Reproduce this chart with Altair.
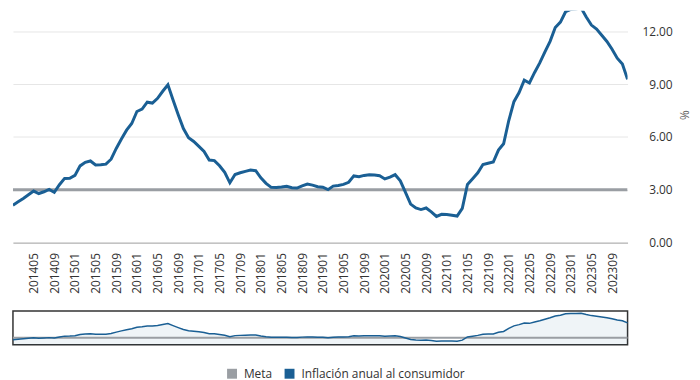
import altair as alt
import pandas as pd

# Categories: monthly periods (YYYYMM) from 2014-01 to 2023-12
fechas = [f"{y}{m:02d}" for y in range(2014, 2024) for m in range(1, 13)]

etiquetas = ["201405", "201409", "201501", "201505", "201509", "201601", "201605",
             "201609", "201701", "201705", "201709", "201801", "201805", "201809",
             "201901", "201905", "201909", "202001", "202005", "202009", "202101",
             "202105", "202109", "202201", "202205", "202209", "202301", "202305",
             "202309"]

inflacion = [
    2.13, 2.32, 2.51, 2.72, 2.93, 2.79, 2.89, 3.02, 2.86, 3.29, 3.65, 3.66,
    3.82, 4.36, 4.56, 4.64, 4.41, 4.42, 4.46, 4.74, 5.35, 5.89, 6.39, 6.77,
    7.45, 7.59, 7.98, 7.93, 8.20, 8.60, 8.97, 8.10, 7.27, 6.48, 5.96, 5.75,
    5.47, 5.18, 4.69, 4.66, 4.37, 3.99, 3.40, 3.87, 3.97, 4.05, 4.12, 4.09,
    3.68, 3.37, 3.14, 3.13, 3.16, 3.20, 3.12, 3.10, 3.23, 3.33, 3.27, 3.18,
    3.15, 3.01, 3.21, 3.25, 3.31, 3.43, 3.79, 3.75, 3.82, 3.86, 3.84, 3.80,
    3.62, 3.72, 3.86, 3.51, 2.85, 2.19, 1.97, 1.88, 1.97, 1.75, 1.49, 1.61,
    1.60, 1.56, 1.51, 1.95, 3.30, 3.63, 3.97, 4.44, 4.51, 4.58, 5.26, 5.62,
    6.94, 8.01, 8.53, 9.23, 9.07, 9.67, 10.21, 10.84, 11.44, 12.22, 12.53, 13.12,
    13.25, 13.28, 13.34, 12.82, 12.36, 12.13, 11.78, 11.43, 10.99, 10.48, 10.15, 9.28,
]

meta_valor = 3.0
series = ["Meta", "Inflación anual al consumidor"]
colores = ["#9a9ea3", "#1a5f94"]
y_ticks = [0, 3, 6, 9, 12]

df = pd.DataFrame({"fecha": fechas, "inflacion": inflacion})
df["meta"] = meta_valor

color_scale = alt.Scale(domain=series, range=colores)
legend = alt.Legend(
    title=None, orient="none", legendX=215, legendY=360, direction="horizontal",
    symbolType="square", symbolSize=1, symbolStrokeWidth=9,
    labelFontSize=12, labelColor="#333333", labelOffset=6, columnPadding=-2,
    labelLimit=400,
)

x_main = alt.X(
    "fecha:O",
    scale=alt.Scale(type="point", padding=0, domain=fechas),
    axis=alt.Axis(values=etiquetas, title=None, labelAngle=270, tickSize=0,
                  labelPadding=10, labelFontSize=12, labelColor="#333333",
                  domainColor="#a8a8a8", domainWidth=1, grid=False,
                  labelAlign="right", labelBaseline="middle"),
)
y_scale = alt.Scale(domain=[0, 13.18], nice=False, zero=True)
y_axis = alt.Axis(orient="right", values=y_ticks, format=".2f", title="%",
                  titleAngle=90, titleX=56, titleY=105, titleAlign="center",
                  titleBaseline="middle", titleFontSize=12,
                  titleFontWeight="normal", titleColor="#666666",
                  grid=True, gridColor="#e6e6e6", domain=False, tickSize=0,
                  labelPadding=45, labelAlign="right", labelFontSize=12,
                  labelColor="#333333")

base = alt.Chart(df)
color_enc = alt.Color("serie:N", scale=color_scale, legend=legend)

meta_line = base.mark_line(strokeWidth=3, clip=True).transform_calculate(
    serie="'Meta'"
).encode(
    x=x_main,
    y=alt.Y("meta:Q", scale=y_scale, axis=y_axis),
    color=color_enc,
)
infl_line = base.mark_line(strokeWidth=3, clip=True).transform_calculate(
    serie="'Inflación anual al consumidor'"
).encode(
    x=x_main,
    y=alt.Y("inflacion:Q", scale=y_scale, axis=y_axis),
    color=color_enc,
)
main = alt.layer(meta_line, infl_line).properties(width=620, height=234)

x_nav = alt.X("fecha:O", scale=alt.Scale(type="point", padding=0, domain=fechas), axis=None)
y_nav = alt.Scale(domain=[0, 14.3], nice=False)

nav_area = base.mark_area(color=colores[1], opacity=0.07).encode(
    x=x_nav, y=alt.Y("inflacion:Q", scale=y_nav, axis=None))
nav_meta = base.mark_line(color=colores[0], strokeWidth=2).encode(
    x=x_nav, y=alt.Y("meta:Q", scale=y_nav, axis=None))
nav_line = base.mark_line(color=colores[1], strokeWidth=1.5).encode(
    x=x_nav, y=alt.Y("inflacion:Q", scale=y_nav, axis=None))

nav = alt.layer(nav_area, nav_meta, nav_line).properties(
    width=620, height=34,
    view=alt.ViewBackground(stroke="#333333", strokeWidth=1.5),
)

chart = alt.vconcat(main, nav, spacing=15).properties(
    padding={"left": 0, "top": 0, "right": 2, "bottom": 0}
).configure(font="Open Sans").configure_view(stroke="transparent")

chart.save("out.html", embed_options={"renderer": "svg", "actions": False})
